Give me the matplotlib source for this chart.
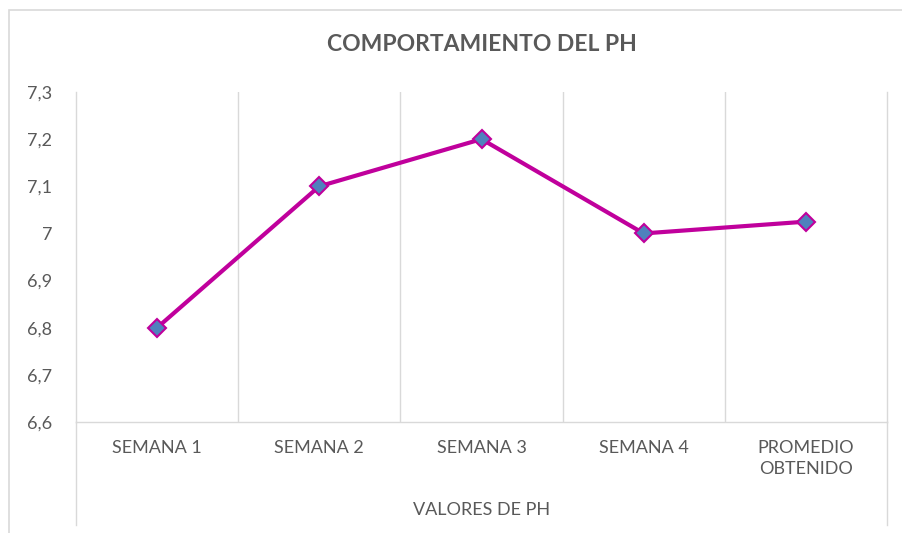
import matplotlib
matplotlib.use("Agg")
import matplotlib.pyplot as plt
from matplotlib.lines import Line2D
from matplotlib.patches import Rectangle

categories = ["SEMANA 1", "SEMANA 2", "SEMANA 3", "SEMANA 4", "PROMEDIO\nOBTENIDO"]
ph_values = [6.8, 7.1, 7.2, 7.0, 7.025]
y_ticks = [6.6, 6.7, 6.8, 6.9, 7.0, 7.1, 7.2, 7.3]
y_tick_labels = ["6,6", "6,7", "6,8", "6,9", "7", "7,1", "7,2", "7,3"]
group_label = "VALORES DE PH"
title = "COMPORTAMIENTO DEL PH"

W, H = 902, 533
fig = plt.figure(figsize=(W / 100, H / 100), dpi=100)
plt.rcParams['font.family'] = ['Lato', 'DejaVu Sans']

# outer chart border
fig.patches.append(Rectangle((9 / W, -0.1), 1.2, 1 - 10 / H + 0.1, transform=fig.transFigure,
                             fill=False, edgecolor="#D9D9D9", linewidth=1.2))

x0, x1 = 76 / W, 887 / W
y0, y1 = 1 - 422 / H, 1 - 92 / H
ax = fig.add_axes([x0, y0, x1 - x0, y1 - y0])

grid_c = "#D9D9D9"
n = len(categories)
xs = list(range(n))
ax.set_xlim(-0.5, n - 0.5)
ax.set_ylim(y_ticks[0], y_ticks[-1])

for b in [i + 0.5 for i in range(n - 1)]:
    ax.axvline(b, color=grid_c, linewidth=1.0, zorder=1)

ax.spines["top"].set_visible(False)
for s in ["left", "right", "bottom"]:
    ax.spines[s].set_color(grid_c)
    ax.spines[s].set_linewidth(1.0)

# extend outer category-group lines below the axis
ext = (525 - 422) / (422 - 92)
for xa in (0, 1):
    ax.add_line(Line2D([xa, xa], [0, -ext], transform=ax.transAxes, color=grid_c,
                       linewidth=1.0, clip_on=False))

ax.plot(xs, ph_values, color="#C0009C", linewidth=3.0, marker="D", markersize=9,
        markerfacecolor="#4F81BD", markeredgecolor="#C0009C", markeredgewidth=1.5,
        zorder=3, solid_capstyle="round")

ax.set_yticks(y_ticks)
ax.set_yticklabels(y_tick_labels)
ax.set_xticks(xs)
ax.set_xticklabels(categories, linespacing=1.35)
ax.tick_params(axis="both", length=0, labelcolor="#595959", labelsize=13)
ax.tick_params(axis="y", pad=17)
ax.tick_params(axis="x", pad=13)

fig.text((x0 + x1) / 2, 1 - 510 / H, group_label, ha="center", va="center",
         fontsize=13, color="#595959")
fig.text((x0 + x1) / 2 - 0.0, 1 - 45 / H, title, ha="center", va="center",
         fontsize=16.5, fontweight="bold", color="#595959")

fig.savefig("out.png", dpi=100, facecolor="white")
